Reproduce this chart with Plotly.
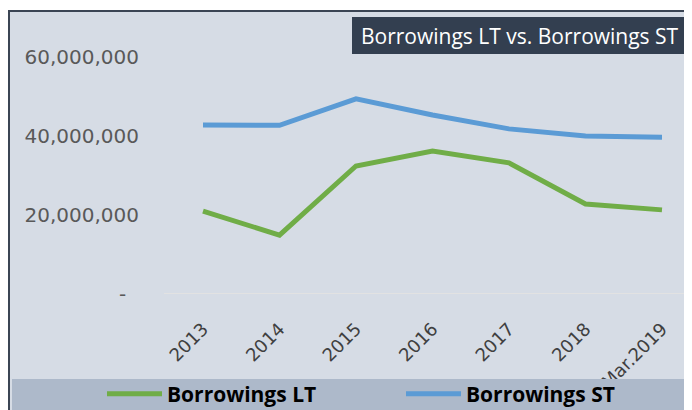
import plotly.graph_objects as go

categories = ["2013", "2014", "2015", "2016", "2017", "2018", "Mar.2019"]
borrowings_lt = [21.0e6, 14.9e6, 32.4e6, 36.2e6, 33.2e6, 22.8e6, 21.3e6]
borrowings_st = [42.8e6, 42.7e6, 49.4e6, 45.3e6, 41.8e6, 40.0e6, 39.7e6]
y_tick_vals = [0, 20e6, 40e6, 60e6]
y_tick_text = ["-\u00a0\u00a0", "20,000,000", "40,000,000", "60,000,000"]
title_text = "Borrowings LT vs. Borrowings ST"

# page body has an 8px margin; the figure runs past the window's right and bottom edges
OFF = 8
W, H = 692, 410
def px(x):
    return (x - OFF) / W
def py(y):
    return 1 - (y - OFF) / H

X0, X1 = 140, 692                 # screen x of the x-axis domain ends
FIRST, STEP = 203, 76.5           # screen x of first category and spacing

fig = go.Figure()
fig.add_trace(go.Scatter(x=categories, y=borrowings_lt, mode="lines", name="Borrowings LT",
                         line=dict(color="#70ad47", width=5)))
fig.add_trace(go.Scatter(x=categories, y=borrowings_st, mode="lines", name="Borrowings ST",
                         line=dict(color="#5b9bd5", width=5)))

fig.update_layout(
    width=W, height=H,
    margin=dict(l=0, r=0, t=0, b=0, autoexpand=False),
    paper_bgcolor="white",
    plot_bgcolor="rgba(0,0,0,0)",
    showlegend=True,
    legend=dict(orientation="h", x=px(102), y=py(394), xanchor="left", yanchor="middle",
                bgcolor="rgba(0,0,0,0)", font=dict(family="Open Sans", size=21, color="black", weight="bold"),
                itemwidth=55, entrywidth=229, entrywidthmode="pixels", traceorder="normal"),
    xaxis=dict(domain=[px(X0), px(X1)], range=[-(FIRST - X0) / STEP, (X1 - FIRST) / STEP], type="category",
               automargin=False,
               showgrid=False, zeroline=False, showline=False, ticks="",
               tickangle=-45, tickfont=dict(family="DejaVu Sans", size=18, color="#404040"),
               ticklabelstandoff=20),
    yaxis=dict(domain=[py(294), py(37.25)], range=[0, 65e6], automargin=False,
               showgrid=False, zeroline=False, showline=False, ticks="",
               tickvals=y_tick_vals, ticktext=y_tick_text,
               tickfont=dict(family="DejaVu Sans", size=20, color="#595959")),
    shapes=[
        dict(type="rect", xref="paper", yref="paper", x0=px(9), x1=1.05, y0=-0.05, y1=py(11),
             fillcolor="#d6dce5", line=dict(color="#3b4554", width=2), layer="below"),
        dict(type="line", xref="paper", yref="y", x0=px(164), x1=1, y0=0, y1=0,
             line=dict(color="#e2e2e2", width=2), layer="below"),
        dict(type="rect", xref="paper", yref="paper", x0=px(12), x1=1.05, y0=-0.05, y1=py(379),
             fillcolor="#adb9ca", line=dict(width=0), layer="above"),
        dict(type="rect", xref="paper", yref="paper", x0=px(352), x1=1.05, y0=py(54), y1=py(17),
             fillcolor="#333f50", line=dict(width=0), layer="above"),
    ],
    annotations=[
        dict(text=title_text, xref="paper", yref="paper", x=px(359), y=py(35.5),
             xanchor="left", yanchor="middle", showarrow=False,
             font=dict(family="Open Sans", size=21, color="white")),
    ],
)

fig.write_html("out.html")
